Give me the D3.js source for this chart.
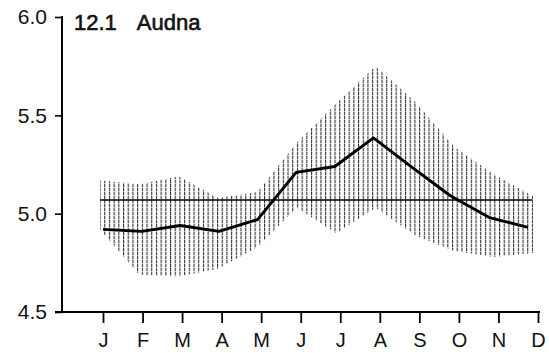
<!DOCTYPE html>
<html>
<head>
<meta charset="utf-8">
<script src="https://cdn.jsdelivr.net/npm/d3@7"></script>
<style>
  html, body { margin: 0; padding: 0; background: #fff; }
  svg { display: block; }
  text { font-family: "Liberation Sans", Arial, Helvetica, sans-serif; fill: #111; }
</style>
</head>
<body>
<svg id="chart" width="549" height="353"></svg>
<script>
// ---- data ----
const titleNumber = "12.1";
const titleName = "Audna";
const months = ["J","F","M","A","M","J","J","A","S","O","N","D"];
const meanValues  = [4.92, 4.91, 4.94, 4.91, 4.97, 5.21, 5.24, 5.385, 5.235, 5.09, 4.98, 4.93];
const upperValues = [5.17, 5.15, 5.19, 5.08, 5.11, 5.36, 5.56, 5.75, 5.57, 5.34, 5.20, 5.09];
const lowerValues = [4.92, 4.69, 4.68, 4.72, 4.83, 5.03, 4.90, 5.03, 4.89, 4.81, 4.78, 4.80];
const annualMean = 5.07;
const yTicks = [4.5, 5.0, 5.5, 6.0];
const yTickLabels = ["4.5", "5.0", "5.5", "6.0"];

// ---- layout ----
const svg = d3.select("#chart");
const axisX = 62, axisY = 312;
const y = d3.scaleLinear().domain([4.5, 6.0]).range([312, 17]);
const idx = d3.range(months.length);
const xTick = d3.scalePoint().domain(idx).range([103, 538]);
const xData = d3.scalePoint().domain(idx).range([103, 528]);
const xBand = d3.scalePoint().domain(idx).range([100, 533]);

// hatch pattern
const defs = svg.append("defs");
const pat = defs.append("pattern")
  .attr("id", "hatch")
  .attr("patternUnits", "userSpaceOnUse")
  .attr("x", 99.5).attr("y", 0)
  .attr("width", 4.7).attr("height", 4);
pat.append("rect").attr("x", 0).attr("y", 0).attr("width", 1.1).attr("height", 3.2).attr("fill", "#333");
pat.append("rect").attr("x", 0).attr("y", 3.2).attr("width", 1.1).attr("height", 0.8).attr("fill", "#999");

// band
const area = d3.area()
  .x((d, i) => xBand(i))
  .y0((d, i) => y(lowerValues[i]))
  .y1((d, i) => y(upperValues[i]));
svg.append("path")
  .datum(idx)
  .attr("d", area)
  .attr("fill", "url(#hatch)");

// annual mean line
svg.append("line")
  .attr("x1", 100).attr("x2", 532)
  .attr("y1", y(annualMean)).attr("y2", y(annualMean))
  .attr("stroke", "#000").attr("stroke-width", 1.5);

// monthly mean line
const line = d3.line().x((d, i) => xData(i)).y(d => y(d));
svg.append("path")
  .datum(meanValues)
  .attr("d", line)
  .attr("fill", "none")
  .attr("stroke", "#000")
  .attr("stroke-width", 2.9)
  .attr("stroke-linejoin", "round");

// y axis
const yAxis = d3.axisLeft(y).tickValues(yTicks).tickSize(7)
  .tickFormat((d, i) => yTickLabels[i]);
const gy = svg.append("g").attr("transform", `translate(${axisX},0)`).call(yAxis);
gy.select(".domain").remove();
gy.selectAll(".tick line").attr("stroke", "#000").attr("stroke-width", 1.6);
gy.selectAll(".tick text")
  .attr("x", -15)
  .style("font-size", "21px")
  .style("font-family", "Liberation Sans, Arial, sans-serif")
  .attr("fill", "#111");
svg.append("line")
  .attr("x1", axisX).attr("x2", axisX)
  .attr("y1", y(6.0) - 1).attr("y2", axisY + 1)
  .attr("stroke", "#000").attr("stroke-width", 2);

// x axis
const xAxis = d3.axisBottom(xTick).tickSize(11).tickFormat(i => months[i]);
const gx = svg.append("g").attr("transform", `translate(0,${axisY})`).call(xAxis);
gx.select(".domain").remove();
gx.selectAll(".tick line").attr("stroke", "#000").attr("stroke-width", 1.8);
gx.selectAll(".tick text")
  .attr("y", 21)
  .style("font-size", "20px")
  .style("font-family", "Liberation Sans, Arial, sans-serif")
  .attr("fill", "#111");
svg.append("line")
  .attr("x1", axisX - 7).attr("x2", 540)
  .attr("y1", axisY).attr("y2", axisY)
  .attr("stroke", "#000").attr("stroke-width", 2);

// title
const t = svg.append("text")
  .attr("x", 74).attr("y", 30)
  .style("font-size", "22px")
  .attr("stroke", "#111").attr("stroke-width", 0.6);
t.append("tspan").text(titleNumber);
t.append("tspan").attr("dx", 20).text(titleName);
</script>
</body>
</html>
